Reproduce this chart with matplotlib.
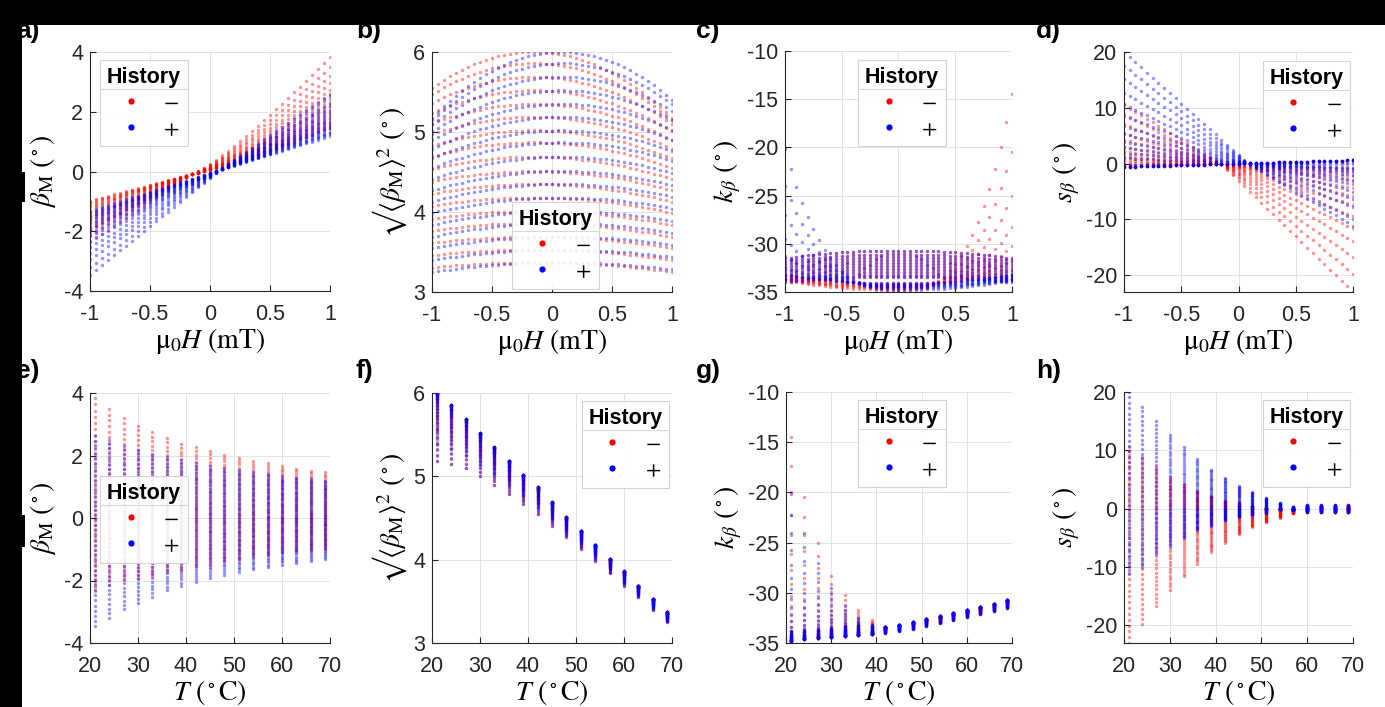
import numpy as np
import matplotlib.pyplot as plt
from matplotlib.lines import Line2D
from matplotlib.patches import Rectangle

plt.rcParams['font.family'] = ['Liberation Sans', 'DejaVu Sans']
plt.rcParams['mathtext.fontset'] = 'stix'
plt.rcParams['axes.unicode_minus'] = False

# field sweep (mT) and temperatures (degC)
field = np.round(np.linspace(-1, 1, 41), 2)
temps = [21, 24, 27, 30, 33, 36, 39, 42, 45, 48, 51, 54, 57, 60, 63, 66, 69]

# crossing points of the two history branches
h0_red, h0_blue = -0.15, 0.08

# beta_M read at H = +1 and H = -1 for each temperature
beta_red_p1 = [3.84, 3.49, 3.20, 2.96, 2.74, 2.56, 2.38, 2.27, 2.15, 2.03, 1.92, 1.83, 1.75, 1.67, 1.58, 1.51, 1.46]
beta_red_m1 = [-2.35, -2.13, -1.97, -1.92, -1.87, -1.74, -1.65, -1.55, -1.49, -1.39, -1.31, -1.23, -1.17, -1.12, -1.07, -1.01, -0.98]
beta_blue_p1 = [2.61, 2.50, 2.29, 2.19, 2.06, 1.95, 1.85, 1.76, 1.67, 1.60, 1.53, 1.46, 1.41, 1.33, 1.28, 1.25, 1.19]
beta_blue_m1 = [-3.45, -3.2, -2.92, -2.72, -2.52, -2.31, -2.17, -2.05, -1.92, -1.81, -1.73, -1.63, -1.57, -1.49, -1.44, -1.39, -1.31]
beta_red_x0, beta_blue_x0 = -0.08, 0.05

# rms of beta_M: value at the peak and at the far end of the sweep
rms_peak = [6.00, 5.86, 5.69, 5.52, 5.35, 5.19, 5.02, 4.87, 4.69, 4.51, 4.35, 4.18, 4.01, 3.86, 3.69, 3.53, 3.37]
rms_end = [5.18, 5.15, 5.10, 5.01, 4.90, 4.79, 4.67, 4.55, 4.41, 4.27, 4.13, 3.99, 3.84, 3.69, 3.55, 3.40, 3.25]

# k_beta: core value at H = 0 and |H| = 1, and branch ends (red at +1, blue at -1)
k_mid = [-34.8, -34.6, -34.5, -34.4, -34.3, -34.2, -34.1, -33.4, -33.2, -32.9, -32.6, -32.3, -32.0, -31.7, -31.4, -31.1, -30.7]
k_edge = [-33.8, -33.7, -33.6, -33.5, -33.3, -33.2, -33.2, -34.0, -33.8, -33.6, -33.3, -33.0, -32.7, -32.4, -32.1, -31.8, -31.5]
k_red_p1 = [-14.5, -20.5, -25.0, -28.3, -30.2, -31.7, -32.7, -34.0, -33.8, -33.6, -33.3, -33.0, -32.7, -32.4, -32.1, -31.8, -31.5]
k_blue_m1 = [-20.2, -24.0, -27.0, -29.5, -31.3, -32.5, -33.2, -34.0, -33.8, -33.6, -33.3, -33.0, -32.7, -32.4, -32.1, -31.8, -31.5]

# s_beta read at H = -1 and H = +1
s_red_m1 = [10.5, 8.9, 7.1, 5.4, 4.3, 3.0, 2.2, 1.4, 1.0, 0.5, 0.2, -0.2, -0.4, -0.6, -0.6, -0.6, -0.6]
s_red_p1 = [-23.0, -19.7, -16.7, -13.9, -11.6, -9.4, -7.4, -5.8, -4.4, -3.1, -2.3, -1.5, -0.8, 0.6, 0.6, 0.6, 0.6]
s_blue_m1 = [20.0, 17.5, 15.1, 12.7, 10.6, 8.6, 6.7, 5.3, 3.9, 2.9, 1.9, 1.0, -0.2, -0.5, -0.6, -0.6, -0.6]
s_blue_p1 = [-11.1, -10.0, -7.8, -6.3, -5.0, -3.7, -2.9, -2.0, -1.4, -1.0, -0.7, 0.0, 0.3, 0.6, 0.6, 0.6, 0.6]

H = field[None, :]


def col(v):
    return np.asarray(v, dtype=float)[:, None]


def two_sided(h0, v0, v_m1, v_p1, p_up=1.0):
    right = np.clip((H - h0) / (1 - h0), 0, None)
    left = np.clip((h0 - H) / (1 + h0), 0, None)
    return np.where(H >= h0, v0 + (col(v_p1) - v0) * right ** p_up,
                    v0 + (col(v_m1) - v0) * left)


beta_red = two_sided(h0_red, beta_red_x0, beta_red_m1, beta_red_p1, 1.2)
beta_blue = two_sided(h0_blue, beta_blue_x0, beta_blue_m1, beta_blue_p1, 1.0)


def rms_branch(h0):
    d = (H - h0) / (1 + abs(h0))
    return col(rms_peak) - (col(rms_peak) - col(rms_end)) * d ** 2


rms_red = rms_branch(h0_red)
rms_blue = rms_branch(h0_blue)

k_core = col(k_mid) + (col(k_edge) - col(k_mid)) * H ** 2
k_red = k_core + (col(k_red_p1) - col(k_edge)) * np.clip(H, 0, None) ** 3
k_blue = k_core + (col(k_blue_m1) - col(k_edge)) * np.clip(-H, 0, None) ** 3


def s_branch(h0, v_m1, v_p1):
    base = 0.6 * H
    right = np.clip((H - h0) / (1 - h0), 0, None)
    left = np.clip((h0 - H) / (1 + h0), 0, None)
    return base + (col(v_p1) - 0.6) * right + (col(v_m1) + 0.6) * left


s_red = s_branch(h0_red, s_red_m1, s_red_p1)
s_blue = s_branch(h0_blue, s_blue_m1, s_blue_p1)

W, Hpx = 1385, 707
fig = plt.figure(figsize=(W / 100, Hpx / 100), dpi=100)


def px_axes(x0, x1, y0, y1):
    return fig.add_axes([x0 / W, 1 - y1 / Hpx, (x1 - x0) / W, (y1 - y0) / Hpx])


top_boxes = [(90, 330, 52, 291), (432, 672, 52, 292), (785, 1012, 51, 292), (1124, 1353, 52, 292)]
bot_boxes = [(90, 330, 393, 643), (432, 672, 393, 643), (786, 1012, 392, 643), (1124, 1353, 392, 643)]

datasets = [(beta_red, beta_blue), (rms_red, rms_blue), (k_red, k_blue), (s_red, s_blue)]
ylims = [(-4, 4), (3, 6), (-35, -10), (-23, 20)]
yticks = [[-4, -2, 0, 2, 4], [3, 4, 5, 6], [-35, -30, -25, -20, -15, -10], [-20, -10, 0, 10, 20]]
ylabels = [r'$\beta_\mathrm{M}\ (^\circ)$',
           '$\u221a' + r'\langle\beta_\mathrm{M}\rangle^2\ (^\circ)$',
           r'$k_\beta\ (^\circ)$',
           r'$s_\beta\ (^\circ)$']
ylabel_pads = [4, 3, 3, 3]
leg_top = [(0.042, 0.967), (0.333, 0.375), (0.322, 0.963), (0.607, 0.963)]
leg_bot = [(0.042, 0.668), (0.625, 0.968), (0.319, 0.968), (0.607, 0.968)]
letters_top = ['a)', 'b)', 'c)', 'd)']
letters_bot = ['e)', 'f)', 'g)', 'h)']
letter_x = [16, 356, 696, 1036]

red_c, blue_c = '#ff0000', '#0000ff'
legends = []


def style(ax, xlim, xticks, xticklabels, ylim, yt, xlabel, ylabel, ypad):
    ax.set_xlim(*xlim)
    ax.set_ylim(*ylim)
    ax.set_xticks(xticks)
    ax.set_xticklabels(xticklabels)
    ax.set_yticks(yt)
    ax.set_yticklabels([str(v) for v in yt])
    ax.grid(True, color='#e3e3e3', lw=0.7)
    ax.set_axisbelow(True)
    for s in ['top', 'right']:
        ax.spines[s].set_visible(False)
    for s in ['left', 'bottom']:
        ax.spines[s].set_color('#262626')
        ax.spines[s].set_linewidth(0.8)
    ax.tick_params(direction='in', length=4, width=0.8, color='#262626',
                   labelsize=15.5, labelcolor='#262626')
    ax.tick_params(axis='x', pad=9)
    ax.tick_params(axis='y', pad=5)
    ax.set_xlabel(xlabel, fontsize=20, labelpad=1)
    ax.set_ylabel(ylabel, fontsize=20, labelpad=ypad)


def add_legend(ax, anchor):
    handles = [Line2D([], [], ls='none', marker='o', ms=4.5, mfc=red_c, mec='none'),
               Line2D([], [], ls='none', marker='o', ms=4.5, mfc=blue_c, mec='none')]
    leg = ax.legend(handles, ['\u2212', '+'], title='History', loc='upper left',
                    bbox_to_anchor=anchor, borderaxespad=0, frameon=True, fancybox=False,
                    edgecolor='#d0d0d0', framealpha=0.9, handlelength=2.0,
                    handletextpad=0.5, labelspacing=0.25, borderpad=0.3,
                    prop={'family': 'STIXGeneral', 'size': 16},
                    title_fontproperties={'weight': 'bold', 'size': 15.5})
    leg.get_frame().set_linewidth(0.8)
    legends.append(leg)


xt_h = [-1, -0.5, 0, 0.5, 1]
xtl_h = ['-1', '-0.5', '0', '0.5', '1']
xt_t = [20, 30, 40, 50, 60, 70]

for i in range(4):
    red, blue = datasets[i]
    ax = px_axes(*top_boxes[i])
    ax.scatter(np.tile(field, len(temps)), red.ravel(), s=6, c=red_c, alpha=0.42, lw=0)
    ax.scatter(np.tile(field, len(temps)), blue.ravel(), s=6, c=blue_c, alpha=0.42, lw=0)
    style(ax, (-1, 1), xt_h, xtl_h, ylims[i], yticks[i],
          r'$\mathrm{\mu}_0H\ (\mathrm{mT})$', ylabels[i], ylabel_pads[i])
    add_legend(ax, leg_top[i])

    ax = px_axes(*bot_boxes[i])
    tt = np.repeat(temps, len(field))
    ax.scatter(tt, red.ravel(), s=6, c=red_c, alpha=0.42, lw=0)
    ax.scatter(tt, blue.ravel(), s=6, c=blue_c, alpha=0.42, lw=0)
    style(ax, (20, 70), xt_t, [str(v) for v in xt_t], ylims[i], yticks[i],
          r'$T\ (^\circ\mathrm{C})$', ylabels[i], ylabel_pads[i])
    add_legend(ax, leg_bot[i])

    fig.text(letter_x[i] / W, 1 - 38 / Hpx, letters_top[i], fontsize=19, weight='bold', va='baseline')
    fig.text(letter_x[i] / W, 1 - 378 / Hpx, letters_bot[i], fontsize=19, weight='bold', va='baseline')

# thin line under each legend title, as in the original
fig.canvas.draw()
for leg in legends:
    fb = leg.get_frame().get_window_extent()
    tb = leg.get_title().get_window_extent()
    y = tb.y0 - 1
    fig.add_artist(Line2D([fb.x0 / W, fb.x1 / W], [y / Hpx, y / Hpx], transform=fig.transFigure,
                          color='#d9d9d9', lw=0.8, zorder=5))

# black borders of the screenshot
for x0, y0, w, h in [(0, 0, W, 25), (0, 0, 22, Hpx), (22, 172, 3, 30), (22, 515, 3, 32)]:
    fig.add_artist(Rectangle((x0 / W, 1 - (y0 + h) / Hpx), w / W, h / Hpx, transform=fig.transFigure,
                             facecolor='black', edgecolor='none', zorder=10))

fig.savefig('out.png', dpi=100)
